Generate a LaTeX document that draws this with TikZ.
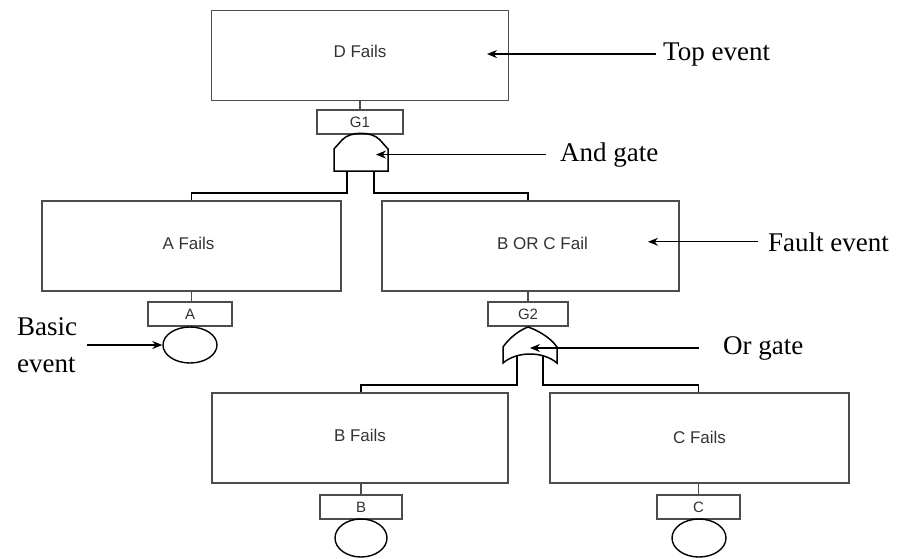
\documentclass[tikz,border=0pt]{standalone}
\usepackage{fontspec}
\setmainfont{Liberation Serif}
\setsansfont{Liberation Sans}
\usetikzlibrary{arrows.meta,shapes.geometric}
\begin{document}
\begin{tikzpicture}[x=1pt,y=-1pt,
  box/.style={draw=black!70, line width=1.5pt, minimum height=90pt, inner sep=0pt,
    font=\sffamily\fontsize{17}{19}\selectfont, text=black!80},
  tag/.style={draw=black!70, line width=1.2pt, minimum height=24pt, inner sep=0pt,
    font=\sffamily\fontsize{15}{17}\selectfont, text=black!80},
  basicev/.style={draw=black, line width=1.4pt, ellipse, inner sep=0pt},
  note/.style={font=\fontsize{27}{37}\selectfont, anchor=base west, inner sep=0pt, align=left},
  pointer/.style={-{Stealth[length=10pt,width=8pt]}, line width=1.2pt},
  gate/.style={draw=black, line width=1.5pt, line join=miter},
  pipe/.style={draw=black, line width=1.5pt, line join=miter}]
\useasboundingbox (0,0) rectangle (902,558);

% boxes
\node[box, minimum width=297pt] (D) at (360,55.5) {\raisebox{9pt}{D Fails}};
\node[tag, minimum width=86pt] (G1) at (360,122) {G1};
\node[box, minimum width=299pt] (A) at (191.5,246) {\hspace*{-6pt}\raisebox{5pt}{A Fails}};
\node[box, minimum width=297pt] (BC) at (530.5,246) {\hspace*{24pt}\raisebox{5pt}{B OR C Fail}};
\node[tag, minimum width=84pt] (Atag) at (190,314) {A};
\node[tag, minimum width=80pt] (G2) at (528,314) {G2};
\node[basicev, minimum width=54pt, minimum height=36pt] (Aev) at (190,345) {};
\node[box, minimum width=296pt] (B) at (360,438) {\raisebox{5pt}{B Fails}};
\node[box, minimum width=299pt] (C) at (699.5,438) {\raisebox{1pt}{C Fails}};
\node[tag, minimum width=82pt] (Btag) at (361,507) {B};
\node[tag, minimum width=83pt] (Ctag) at (698.5,507) {C};
\node[basicev, minimum width=52pt, minimum height=38pt] (Bev) at (361,538) {};
\node[basicev, minimum width=54pt, minimum height=38pt] (Cev) at (699,538) {};

% vertical links
\draw[black!70, line width=1.5pt] (D.south) -- (G1.north);
\draw[black!70, line width=1.5pt] (A.south) -- (A.south |- Atag.north);
\draw[black!70, line width=1.5pt] (BC.south -| G2.north) -- (G2.north);
\draw[black!70, line width=1.5pt] (B.south -| Btag.north) -- (Btag.north);
\draw[black!70, line width=1.5pt] (C.south -| Ctag.north) -- (Ctag.north);

% AND gate
\draw[gate] (334,171) -- (334,149) -- (342,140)
  .. controls (350,131) and (372,131) .. (380,140) -- (388,149) -- (388,171) -- cycle;
\coordinate (andL) at (347,171);
\coordinate (andR) at (374,171);
\coordinate (andTip) at (376,155);
\draw[pipe] (andL) -- (347,193) -| (A.north);
\draw[pipe] (andR) -- (374,193) -| (BC.north -| G2.north);

% OR gate
\draw[gate] (503,363) -- (503,347)
  .. controls (510,337) and (520,330) .. (528,327)
  .. controls (537,330) and (550,337) .. (557,347) -- (557,363)
  .. controls (550,357) and (540,354) .. (530,354)
  .. controls (520,354) and (510,357) .. (503,363) -- cycle;
\coordinate (orL) at (517,355);
\coordinate (orR) at (543,355);
\coordinate (orTip) at (530,348);
\draw[pipe] (orL) -- (517,385) -| (Btag.north |- B.north);
\draw[pipe] (orR) -- (543,385) -| (Ctag.north |- C.north);

% annotations
\node[note] (lTop) at (663,60) {Top event};
\node[note] (lAnd) at (560,161) {And gate};
\node[note] (lFault) at (768,251) {Fault event};
\node[note] (lOr) at (723,354) {Or gate};
\node[note] (lBasic) at (17,372) {Basic\\event};
\coordinate (topTip) at (487,55);
\coordinate (faultTip) at (648,247);

\draw[pointer] ([xshift=-7pt]lTop.west) -- (topTip |- lTop.west);
\draw[pointer] ([xshift=-14pt]lAnd.west) -- (andTip |- lAnd.west);
\draw[pointer] ([xshift=-10pt]lFault.west) -- (faultTip |- lFault.west);
\draw[pointer] ([xshift=-24pt]lOr.west) -- (orTip |- lOr.west);
\draw[pointer] ([xshift=10pt]lBasic.east |- Aev.west) -- (Aev.west);
\end{tikzpicture}
\end{document}
